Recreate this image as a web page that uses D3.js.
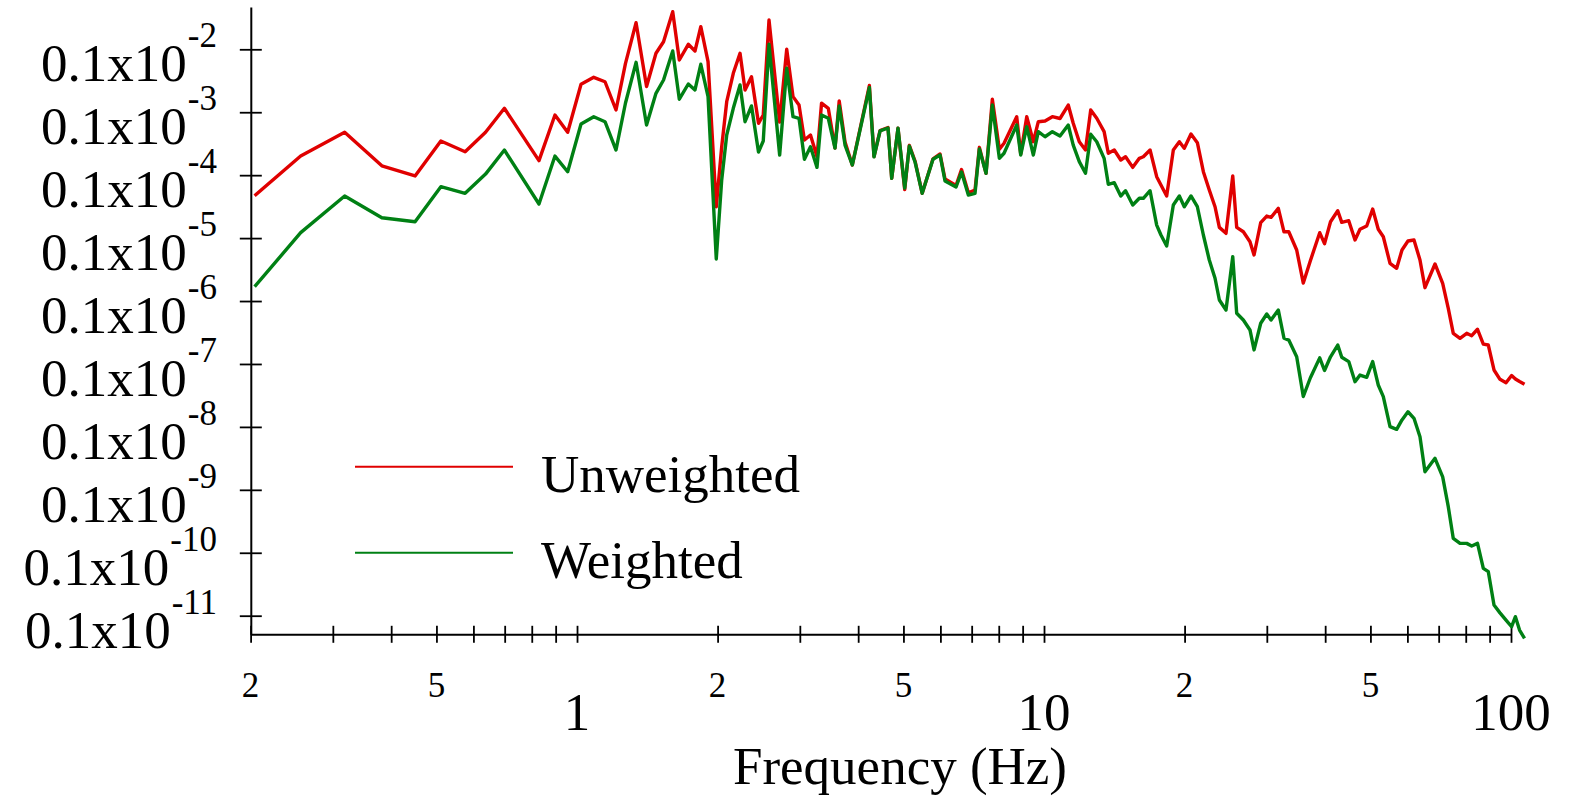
<!DOCTYPE html>
<html><head><meta charset="utf-8">
<script src="https://cdn.jsdelivr.net/npm/d3@7"></script>
<style>
body{margin:0;background:#fff}
svg{display:block}
text{font-family:"Liberation Serif","Times New Roman",serif;fill:#000}
</style>
</head><body>
<svg id="c" width="1571" height="799"></svg>
<script>
// ---- data ----
const freq = [0.204,0.256,0.318,0.382,0.450,0.511,0.576,0.637,0.699,0.829,0.897,0.955,
1.020,1.086,1.148,1.212,1.270,1.338,1.409,1.476,1.532,1.603,1.656,1.731,1.789,1.841,1.908,1.987,
2.041,2.092,2.161,2.234,2.290,2.364,2.447,2.505,2.577,2.716,2.812,2.901,2.988,
3.069,3.162,3.265,3.339,3.452,3.568,3.643,3.749,3.886,
4.227,4.325,4.457,4.634,4.719,4.868,5.032,5.147,5.294,5.485,5.785,5.989,6.138,6.481,6.658,6.886,7.117,7.271,7.514,7.751,8.024,8.211,8.741,8.916,9.184,9.487,9.723,
10.05,10.42,10.82,11.27,11.55,11.90,12.27,12.59,12.97,13.45,13.73,14.14,14.60,14.95,15.49,16.00,16.32,16.87,17.43,17.80,18.31,18.92,19.49,19.97,
20.64,21.30,21.94,22.59,23.24,23.74,24.53,25.36,25.86,26.72,27.61,28.17,29.11,29.99,30.63,31.75,32.65,33.43,34.76,35.91,
37.17,38.94,39.87,41.07,42.56,43.41,44.93,46.34,47.50,49.09,50.56,51.97,53.28,55.07,56.91,58.42,60.17,61.98,63.84,65.43,
68.75,71.40,73.40,75.23,77.77,80.38,82.38,84.78,87.24,89.42,91.96,94.71,97.57,100.3,102.2,104.3,106.9];

const unweighted = [4.72e-6,2.01e-5,4.80e-5,1.41e-5,9.70e-6,3.49e-5,2.36e-5,4.80e-5,1.155e-4,1.70e-5,9.04e-5,4.80e-5,
2.78e-4,3.59e-4,3.05e-4,1.085e-4,5.99e-4,2.65e-3,2.56e-4,8.64e-4,1.32e-3,3.96e-3,6.76e-4,1.20e-3,9.40e-4,2.29e-3,6.35e-4,3.15e-6,
2.83e-5,1.47e-4,4.16e-4,8.64e-4,2.26e-4,3.67e-4,6.67e-5,9.04e-5,2.92e-3,7.00e-5,1.00e-3,1.77e-4,1.30e-4,
3.62e-5,4.35e-5,1.96e-5,1.39e-4,1.155e-4,2.70e-5,1.51e-4,3.37e-5,1.45e-5,
2.66e-4,1.98e-5,5.13e-5,5.72e-5,8.91e-6,5.56e-5,5.92e-6,2.98e-5,1.68e-5,5.15e-6,1.82e-5,2.17e-5,8.69e-6,6.85e-6,1.23e-5,5.26e-6,5.81e-6,2.77e-5,1.07e-5,1.61e-4,2.58e-5,3.21e-5,8.49e-5,2.17e-5,8.49e-5,3.40e-5,7.07e-5,
7.26e-5,8.49e-5,7.95e-5,1.30e-4,6.67e-5,3.40e-5,2.51e-5,1.085e-4,8.01e-5,4.91e-5,2.23e-5,2.51e-5,1.74e-5,1.96e-5,1.33e-5,1.85e-5,1.96e-5,2.51e-5,9.45e-6,6.98e-6,4.67e-6,2.51e-5,3.40e-5,2.67e-5,
4.51e-5,3.28e-5,1.135e-5,5.81e-6,3.15e-6,1.48e-6,1.19e-6,9.70e-6,1.48e-6,1.26e-6,8.77e-7,5.39e-7,1.76e-6,2.24e-6,2.14e-6,2.97e-6,1.26e-6,1.26e-6,6.47e-7,1.93e-7,
4.33e-7,1.22e-6,8.15e-7,1.82e-6,2.72e-6,1.78e-6,1.89e-6,9.33e-7,1.38e-6,1.56e-6,2.90e-6,1.38e-6,1.05e-6,3.98e-7,3.31e-7,6.47e-7,8.99e-7,9.33e-7,4.49e-7,1.63e-7,
3.88e-7,1.91e-7,7.66e-8,3.07e-8,2.56e-8,3.07e-8,2.81e-8,3.56e-8,2.07e-8,2.00e-8,8.02e-9,5.70e-9,5.04e-9,6.56e-9,5.77e-9,5.26e-9,4.75e-9];

const weighted = [1.69e-7,1.22e-6,4.67e-6,2.11e-6,1.82e-6,6.56e-6,5.15e-6,1.04e-5,2.51e-5,3.48e-6,2.01e-5,1.135e-5,
6.50e-5,8.49e-5,7.07e-5,2.51e-5,1.40e-4,6.21e-4,6.27e-5,2.00e-4,3.25e-4,9.40e-4,1.61e-4,2.81e-4,2.26e-4,5.78e-4,1.77e-4,4.66e-7,
8.38e-6,4.35e-5,1.155e-4,2.71e-4,7.07e-5,1.26e-4,2.33e-5,3.49e-5,1.20e-3,2.09e-5,4.99e-4,8.49e-5,8.01e-5,
1.79e-5,2.83e-5,1.33e-5,9.04e-5,8.01e-5,2.70e-5,1.26e-4,3.01e-5,1.45e-5,
2.47e-4,1.96e-5,5.04e-5,5.62e-5,8.91e-6,5.56e-5,6.25e-6,2.90e-5,1.62e-5,5.15e-6,1.79e-5,2.09e-5,8.07e-6,6.49e-6,1.12e-5,4.84e-6,5.15e-6,2.61e-5,1.07e-5,1.30e-4,1.85e-5,2.23e-5,6.27e-5,2.09e-5,5.89e-5,2.09e-5,4.91e-5,
4.08e-5,4.91e-5,4.19e-5,6.27e-5,3.01e-5,1.64e-5,1.07e-5,4.46e-5,3.40e-5,1.85e-5,7.16e-6,7.59e-6,4.67e-6,5.66e-6,3.36e-6,4.29e-6,4.29e-6,5.66e-6,1.61e-6,1.12e-6,7.49e-7,3.36e-6,4.67e-6,3.15e-6,
4.67e-6,3.15e-6,1.12e-6,4.49e-7,2.30e-7,1.04e-7,7.19e-8,5.06e-7,6.38e-8,4.99e-8,3.47e-8,1.67e-8,4.43e-8,6.22e-8,4.99e-8,7.19e-8,2.56e-8,2.40e-8,1.30e-8,3.04e-9,
5.98e-9,1.25e-8,7.87e-9,1.30e-8,2.00e-8,1.28e-8,1.09e-8,5.22e-9,6.67e-9,6.14e-9,1.09e-8,4.63e-9,3.02e-9,1.01e-9,9.16e-10,1.29e-9,1.74e-9,1.37e-9,6.98e-10,1.94e-10,
3.17e-10,1.61e-10,5.40e-11,1.69e-11,1.41e-11,1.41e-11,1.28e-11,1.41e-11,5.66e-12,5.00e-12,1.48e-12,1.11e-12,8.53e-13,6.68e-13,9.64e-13,5.92e-13,4.37e-13];

const yTickExponents = [-2,-3,-4,-5,-6,-7,-8,-9,-10,-11];   // label "0.1x10^e"
const xTicks = [0.2,0.3,0.4,0.5,0.6,0.7,0.8,0.9,1,2,3,4,5,6,7,8,9,10,20,30,40,50,60,70,80,90,100];
const xMinorLabels = [{v:0.2,t:"2"},{v:0.5,t:"5"},{v:2,t:"2"},{v:5,t:"5"},{v:20,t:"2"},{v:50,t:"5"}];
const xMajorLabels = [{v:1,t:"1"},{v:10,t:"10"},{v:100,t:"100"}];
const seriesNames = ["Unweighted","Weighted"];
const seriesColors = ["#e00000","#008014"];

// ---- scales ----
const x = d3.scaleLog().domain([0.2,100]).range([250.6,1511]);
const yBase = d3.scaleLog().domain([1e-3,1e-12]).range([49.3,615.7]);
const y = yBase.copy().domain([yBase.invert(7), yBase.invert(634.3)]).range([7,634.3]);

const svg = d3.select("#c");

// ---- axes ----
const gx = svg.append("g").attr("transform","translate(0,634.3)")
  .call(d3.axisBottom(x).tickValues(xTicks).tickFormat("").tickSizeOuter(0).tickSizeInner(8.5));
gx.select(".domain").attr("stroke","#000").attr("stroke-width",2);
gx.selectAll(".tick line").attr("y1",-8.5).attr("y2",8.5).attr("stroke","#000").attr("stroke-width",1.8);

const yTickVals = yTickExponents.map(e => 0.1*Math.pow(10,e));
const gy = svg.append("g").attr("transform","translate(250.8,0)")
  .call(d3.axisLeft(y).tickValues(yTickVals).tickFormat("").tickSizeOuter(0).tickSizeInner(11));
gy.select(".domain").attr("stroke","#000").attr("stroke-width",2);
gy.selectAll(".tick line").attr("x1",-11).attr("x2",11).attr("stroke","#000").attr("stroke-width",1.8);

// y tick labels 0.1x10^e
yTickExponents.forEach((e,i) => {
  const v = yTickVals[i];
  const t = svg.append("text").attr("x",217).attr("y",y(v)+32).attr("text-anchor","end");
  t.append("tspan").attr("font-size",53).text("0.1x10");
  t.append("tspan").attr("font-size",35).attr("dy",-34).attr("dx",1).text(String(e));
});

// x tick labels
svg.selectAll(".xmin").data(xMinorLabels).join("text")
  .attr("x",d=>x(d.v)).attr("y",697).attr("text-anchor","middle").attr("font-size",35).text(d=>d.t);
svg.selectAll(".xmaj").data(xMajorLabels).join("text")
  .attr("x",d=>x(d.v)).attr("y",730)
  .attr("text-anchor","middle").attr("font-size",53).text(d=>d.t);

svg.append("text").attr("x",900).attr("y",784).attr("text-anchor","middle").attr("font-size",53).text("Frequency (Hz)");

// ---- lines ----
const line = d3.line().x(d=>x(d[0])).y(d=>y(d[1]));
[unweighted, weighted].forEach((vals,k) => {
  svg.append("path").datum(freq.map((f,i)=>[f,vals[i]]))
    .attr("d",line).attr("fill","none").attr("stroke",seriesColors[k])
    .attr("stroke-width",3.4).attr("stroke-linejoin","round");
});

// ---- legend ----
const legY = [466.7, 552.7];
seriesNames.forEach((n,k) => {
  svg.append("line").attr("x1",355).attr("x2",513).attr("y1",legY[k]).attr("y2",legY[k])
    .attr("stroke",seriesColors[k]).attr("stroke-width",2);
  svg.append("text").attr("x",541).attr("y",legY[k]+25.5).attr("font-size",53).text(n);
});
</script>
</body></html>
